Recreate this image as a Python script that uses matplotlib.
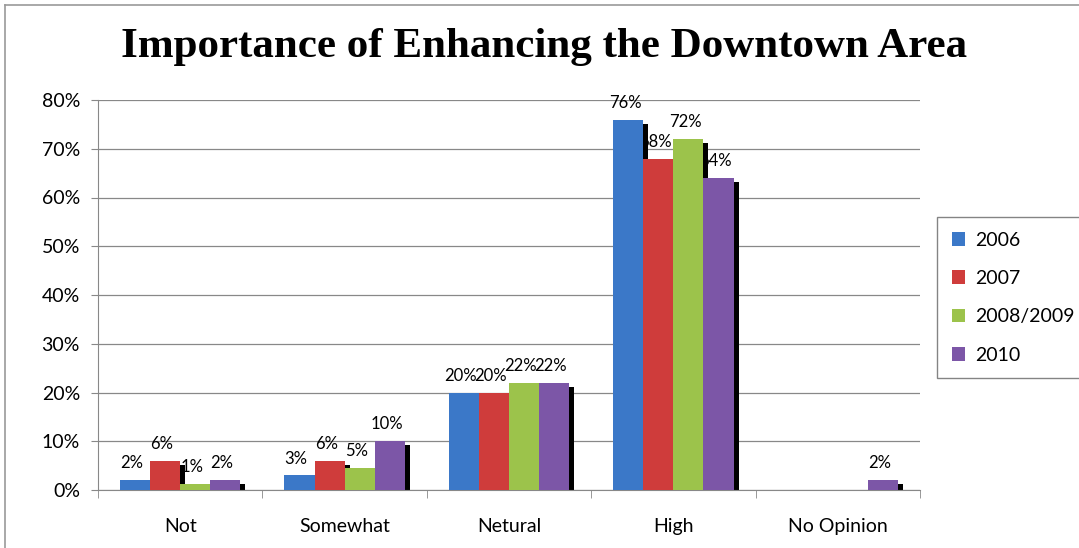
import numpy as np
import matplotlib
matplotlib.use("Agg")
import matplotlib.pyplot as plt
from matplotlib.transforms import ScaledTranslation
from matplotlib.lines import Line2D
from matplotlib.patches import Patch

categories = ['Not', 'Somewhat', 'Netural', 'High', 'No Opinion']
series_names = ['2006', '2007', '2008/2009', '2010']
v2006 = [2, 3, 20, 76, 0]
v2007 = [6, 6, 20, 68, 0]
v2008 = [1.2, 4.6, 22, 72, 0]
v2010 = [2, 10, 22, 64, 2]
values = [v2006, v2007, v2008, v2010]
colors = ['#3B78C8', '#CF3C3B', '#9CC34B', '#7C56A7']

fig = plt.figure(figsize=(10.79, 5.48), dpi=100)
ax = fig.add_axes([98/1079, 58/548, 822/1079, 390/548])

x = np.arange(len(categories))
w = 0.183
offsets = (np.arange(4) - 1.5) * w
shadow_tr = ax.transData + ScaledTranslation(5/100, -4/100, fig.dpi_scale_trans)

for i, (name, vals, c) in enumerate(zip(series_names, values, colors)):
    xs = x + offsets[i]
    vals = np.array(vals, dtype=float)
    ax.bar(xs, vals, w, color='black', transform=shadow_tr, zorder=2,
           linewidth=0)
    ax.bar(xs, vals, w, color=c, zorder=3, linewidth=0, label=name)
    for xi, v in zip(xs, vals):
        if v > 0:
            ax.text(xi - 0.02, v + 1.8, '{:.0f}%'.format(v), ha='center',
                    va='bottom', fontsize=12, family='Lato', zorder=1.5)

ax.set_xlim(-0.5, 4.5)
ax.set_ylim(0, 80)
ax.set_yticks(np.arange(0, 81, 10))
ax.set_yticklabels(['{}%'.format(t) for t in range(0, 81, 10)], family='Lato', fontsize=14)
ax.set_xticks(x)
ax.set_xticklabels(categories, family='Lato', fontsize=14)
ax.set_xticks(np.arange(-0.5, 5, 1), minor=True)
ax.tick_params(axis='x', which='major', length=0, pad=20)
ax.tick_params(axis='x', which='minor', length=6, color='#888888', direction='out')
ax.tick_params(axis='y', length=5, color='#888888', pad=8)
ax.grid(axis='y', color='#888888', linewidth=0.9, zorder=0)
ax.set_axisbelow(True)
for s in ['top', 'right']:
    ax.spines[s].set_visible(False)
for s in ['left', 'bottom']:
    ax.spines[s].set_color('#888888')

fig.text(544/1079, 1 - 47/548, 'Importance of Enhancing the Downtown Area',
         ha='center', va='center', fontsize=31, fontweight='bold',
         family='Liberation Serif')

handles = [Patch(facecolor=c, edgecolor='none') for c in colors]
leg = fig.legend(handles, series_names, loc='upper left',
                 bbox_to_anchor=(937/1079, 1 - 217/548), frameon=True,
                 fancybox=False, edgecolor='#666666', prop={'family': 'Lato', 'size': 14},
                 handlelength=0.7, handleheight=0.7, handletextpad=0.5,
                 labelspacing=1.1, borderpad=0.75, borderaxespad=0)
leg.get_frame().set_linewidth(1.0)

# outer chart border
fig.add_artist(Line2D([5/1079, 5/1079], [0, 1 - 5/548], color='#999999', lw=1.2))
fig.add_artist(Line2D([5/1079, 1], [1 - 5/548, 1 - 5/548], color='#999999', lw=1.2))

fig.savefig('out.png', dpi=100)
